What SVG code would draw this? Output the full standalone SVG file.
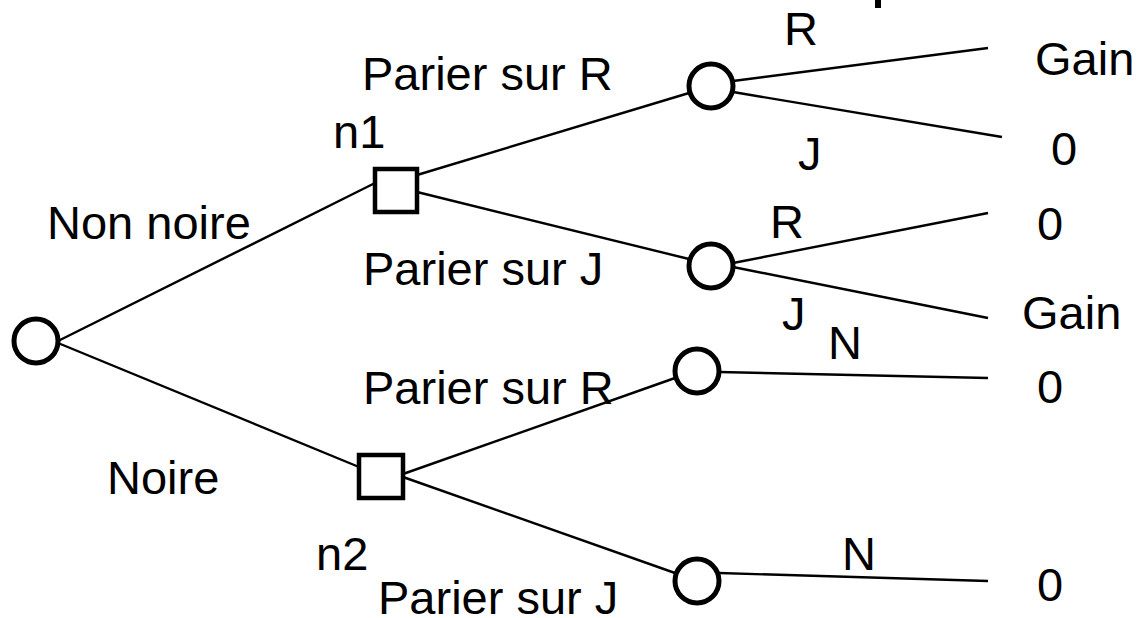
<svg xmlns="http://www.w3.org/2000/svg" width="1142" height="618" viewBox="0 0 1142 618">
<style>
.t{font-family:"Liberation Sans",Arial,sans-serif;font-size:47px;fill:#000}
.c{fill:#fff;stroke:#000;stroke-width:5}
.s{fill:#fff;stroke:#000;stroke-width:4.5}
.e{stroke:#000;stroke-width:2.4;fill:none}
</style>
<rect width="1142" height="618" fill="#fff"/>
<rect x="875" y="0" width="6" height="8" fill="#000"/>
<g id="connectors">
<line class="e" x1="58" y1="341" x2="375" y2="183"/>
<line class="e" x1="58" y1="343" x2="359" y2="467"/>
<line class="e" x1="417" y1="175" x2="689" y2="93"/>
<line class="e" x1="417" y1="192" x2="689" y2="259"/>
<line class="e" x1="403" y1="474" x2="675" y2="378"/>
<line class="e" x1="403" y1="477" x2="675" y2="573"/>
<line class="e" x1="733" y1="81" x2="988" y2="48"/>
<line class="e" x1="733" y1="92" x2="1002" y2="137"/>
<line class="e" x1="733" y1="263" x2="988" y2="213"/>
<line class="e" x1="733" y1="267" x2="988" y2="318"/>
<line class="e" x1="719" y1="372" x2="988" y2="378"/>
<line class="e" x1="719" y1="573" x2="988" y2="581"/>
</g>
<g id="root"><circle class="c" cx="36" cy="341" r="22"/></g>
<g id="n1"><rect class="s" x="375" y="169" width="42" height="43"/><text class="t" x="333" y="148">n1</text></g>
<g id="n2"><rect class="s" x="359" y="455" width="44" height="43"/><text class="t" x="316" y="570">n2</text></g>
<g id="c1"><circle class="c" cx="711" cy="86" r="22"/></g>
<g id="c2"><circle class="c" cx="711" cy="266" r="22"/></g>
<g id="c3"><circle class="c" cx="697" cy="371" r="22"/></g>
<g id="c4"><circle class="c" cx="697" cy="581" r="22"/></g>
<g id="labels">
<text class="t" x="47" y="239">Non noire</text>
<text class="t" x="107" y="494">Noire</text>
<text class="t" x="362" y="90">Parier sur R</text>
<text class="t" x="363" y="285">Parier sur J</text>
<text class="t" x="363" y="404">Parier sur R</text>
<text class="t" x="378" y="614">Parier sur J</text>
<text class="t" x="784" y="45">R</text>
<text class="t" x="798" y="170">J</text>
<text class="t" x="770" y="238">R</text>
<text class="t" x="782" y="330">J</text>
<text class="t" x="828" y="359">N</text>
<text class="t" x="842" y="570">N</text>
<text class="t" x="1035" y="75">Gain</text>
<text class="t" x="1051" y="165">0</text>
<text class="t" x="1037" y="240">0</text>
<text class="t" x="1022" y="329">Gain</text>
<text class="t" x="1037" y="403">0</text>
<text class="t" x="1037" y="601">0</text>
</g>
</svg>
